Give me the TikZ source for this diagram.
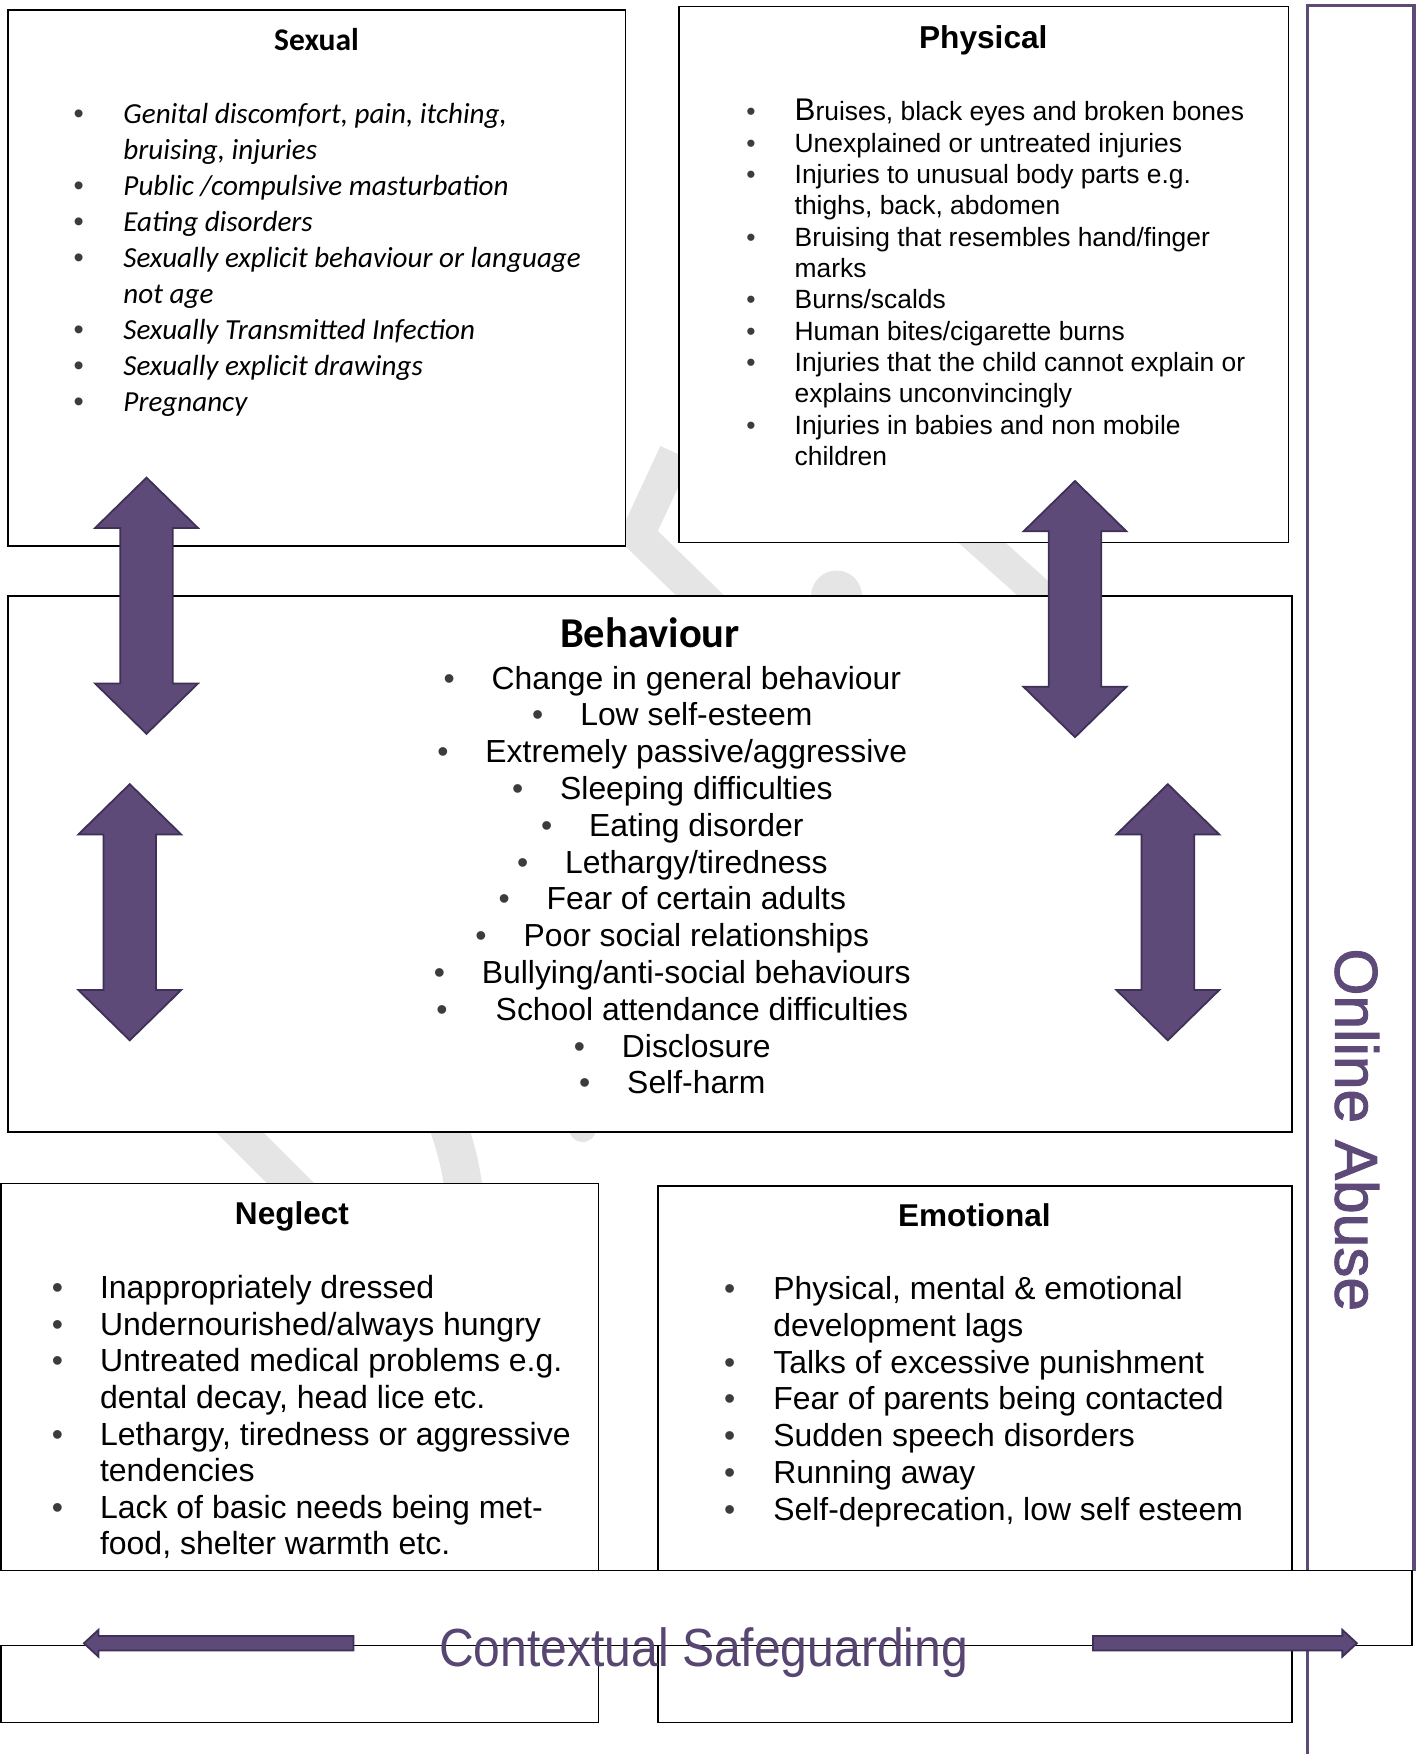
\documentclass[tikz,border=0pt]{standalone}
\usepackage{fontspec}
\setmainfont{Liberation Sans}
\newfontfamily\calfont{Carlito}
\newfontfamily\bulfont{Liberation Sans}
\newfontfamily\csfont[FakeStretch=0.895]{Liberation Sans}
\newfontfamily\oafont[FakeBold=1.6]{Liberation Sans}
\usepackage{tikz, tkz-euclide}
\usetikzlibrary{arrows.meta}

\definecolor{plum}{RGB}{94,74,120}
\definecolor{plumdark}{RGB}{62,48,86}
\definecolor{plumtext}{RGB}{88,70,114}
\definecolor{wmgray}{RGB}{229,229,229}
\definecolor{bulgray}{RGB}{60,60,60}

\newcommand{\blt}[1]{\makebox[#1][c]{\bulfont\upshape\textcolor{bulgray}{\textbullet}}}
\newcommand{\behbul}{\textcolor{bulgray}{\textbullet}\hspace{16.5pt}}

\tikzset{
	box/.style={draw=black, fill=white, line width=0.7pt},
	blockarrow/.style={fill=plum, draw=plumdark, line width=0.8pt, line join=miter},
	wm/.style={draw=wmgray, line width=15pt},
	title/.style={inner sep=0pt, anchor=base},
	list/.style={inner sep=0pt, anchor=base west},
	bar/.style={draw=plum, line width=1.4pt}
}

\begin{document}
\begin{tikzpicture}[x=0.5pt, y=-0.5pt]
		\useasboundingbox (0,0) rectangle (1268,1568);
		
		%%% Filigrana
		\draw[wm] (604,405) -- (570,478) -- (642,548);
		\draw[wm, line width=23pt, line cap=round] (748,572) -- (748,533);
		\draw[wm, line width=14pt] (852,462) -- (948,548);
		\draw[wm] (192,990) -- (284,1082);
		\draw[wm, line width=17pt] (395,990) .. controls (408,1025) and (414,1048) .. (416,1082);
		\draw[wm, line width=12pt, line cap=round] (521,985) -- (521,1009);
		
		%%% Punti
		\tkzDefPoints{7/9/S1, 559/488/S2, 607/6/P1, 1152/485/P2, 7/533/B1, 1155/1012/B2}
		\tkzDefPoints{1/1058/N1, 535/1540/N2, 588/1060/E1, 1155/1540/E2, -10/1404/C1, 1262/1471/C2}
		
		%%% Riquadri
		\draw[box] (S1) rectangle (S2);
		\draw[box] (P1) rectangle (P2);
		\draw[box] (B1) rectangle (B2);
		\draw[box] (N1) rectangle (N2);
		\draw[box] (E1) rectangle (E2);
		
		%%% Sexual
		\node[title, font=\calfont\bfseries\fontsize{14.1pt}{17pt}\selectfont] (tsex) at (283,45) {Sexual};
		\node[list, font=\calfont\itshape\fontsize{13pt}{16.1pt}\selectfont] (sexlist) at (30,110) {%
			\begin{tabular}[t]{@{}l@{}l@{}}
				\blt{40pt} & Genital discomfort, pain, itching,\\
				& bruising, injuries\\
				\blt{40pt} & Public /compulsive masturbation\\
				\blt{40pt} & Eating disorders\\
				\blt{40pt} & Sexually explicit behaviour or language\\
				& not age\\
				\blt{40pt} & Sexually Transmitted Infection\\
				\blt{40pt} & Sexually explicit drawings\\
				\blt{40pt} & Pregnancy
		\end{tabular}};
		
		%%% Physical
		\node[title, font=\bfseries\fontsize{14.15pt}{17pt}\selectfont] (tphy) at (879,43) {Physical};
		\node[list, font=\fontsize{11.8pt}{14pt}\selectfont] (phylist) at (632,108) {%
			\begin{tabular}[t]{@{}l@{}l@{}}
				\blt{39pt} & {\fontsize{14pt}{14pt}\selectfont B}ruises, black eyes and broken bones\\
				\blt{39pt} & Unexplained or untreated injuries\\
				\blt{39pt} & Injuries to unusual body parts e.g.\\
				& thighs, back, abdomen\\
				\blt{39pt} & Bruising that resembles hand/finger\\
				& marks\\
				\blt{39pt} & Burns/scalds\\
				\blt{39pt} & Human bites/cigarette burns\\
				\blt{39pt} & Injuries that the child cannot explain or\\
				& explains unconvincingly\\
				\blt{39pt} & Injuries in babies and non mobile\\
				& children
		\end{tabular}};
		
		%%% Behaviour
		\node[title, font=\calfont\bfseries\fontsize{19pt}{23pt}\selectfont] (tbeh) at (581,579) {Behaviour};
		\node[title, font=\fontsize{14.25pt}{16.45pt}\selectfont] (behlist) at (601,616) {%
			\begin{tabular}[t]{@{}c@{}}
				\behbul Change in general behaviour\\
				\behbul Low self-esteem\\
				\behbul Extremely passive/aggressive\\
				\behbul Sleeping difficulties\\
				\behbul Eating disorder\\
				\behbul Lethargy/tiredness\\
				\behbul Fear of certain adults\\
				\behbul Poor social relationships\\
				\behbul Bullying/anti-social behaviours\\
				\behbul\hspace{5pt}School attendance difficulties\\
				\behbul Disclosure\\
				\behbul Self-harm
		\end{tabular}};
		
		%%% Neglect
		\node[title, font=\bfseries\fontsize{14.1pt}{17pt}\selectfont] (tneg) at (261,1095) {Neglect};
		\node[list, font=\fontsize{14.3pt}{16.35pt}\selectfont] (neglist) at (13,1161) {%
			\begin{tabular}[t]{@{}l@{}l@{}}
				\blt{38pt} & Inappropriately dressed\\
				\blt{38pt} & Undernourished/always hungry\\
				\blt{38pt} & Untreated medical problems e.g.\\
				& dental decay, head lice etc.\\
				\blt{38pt} & Lethargy, tiredness or aggressive\\
				& tendencies\\
				\blt{38pt} & Lack of basic needs being met-\\
				& food, shelter warmth etc.
		\end{tabular}};
		
		%%% Emotional
		\node[title, font=\bfseries\fontsize{14.1pt}{17pt}\selectfont] (temo) at (871,1096) {Emotional};
		\node[list, font=\fontsize{14.25pt}{16.4pt}\selectfont] (emolist) at (613,1162) {%
			\begin{tabular}[t]{@{}l@{}l@{}}
				\blt{39pt} & Physical, mental \& emotional\\
				& development lags\\
				\blt{39pt} & Talks of excessive punishment\\
				\blt{39pt} & Fear of parents being contacted\\
				\blt{39pt} & Sudden speech disorders\\
				\blt{39pt} & Running away\\
				\blt{39pt} & Self-deprecation, low self esteem
		\end{tabular}};
		
		%%% Online Abuse
		\draw[bar] (1169,1600) -- (1169,5) -- (1264,5) -- (1264,1404);
		\node[rotate=-90, text=plum, font=\oafont\fontsize{27pt}{27pt}\selectfont] (online) at (1213,1010) {Online Abuse};
		
		%%% Contextual Safeguarding
		\draw[box] (C1) rectangle (C2);
		\node[title, text=plumtext, font=\csfont\fontsize{24pt}{24pt}\selectfont] (context) at (629,1490) {Contextual Safeguarding};
		
		%%% Frecce
		\foreach \cx/\ty/\by in {131/427/656, 116/701/930, 961/430/659, 1044/701/930}
		\draw[blockarrow] (\cx,\ty) -- (\cx+46,\ty+45) -- (\cx+23.5,\ty+45) -- (\cx+23.5,\by-45) -- (\cx+46,\by-45) -- (\cx,\by)
		-- (\cx-46,\by-45) -- (\cx-23.5,\by-45) -- (\cx-23.5,\ty+45) -- (\cx-46,\ty+45) -- cycle;
		\draw[blockarrow] (75,1469) -- (88,1457) -- (88,1462.5) -- (316,1462.5) -- (316,1475.5) -- (88,1475.5) -- (88,1481) -- cycle;
		\draw[blockarrow] (1213,1469) -- (1200,1457) -- (1200,1462.5) -- (977,1462.5) -- (977,1475.5) -- (1200,1475.5) -- (1200,1481) -- cycle;
	\end{tikzpicture}
\end{document}
